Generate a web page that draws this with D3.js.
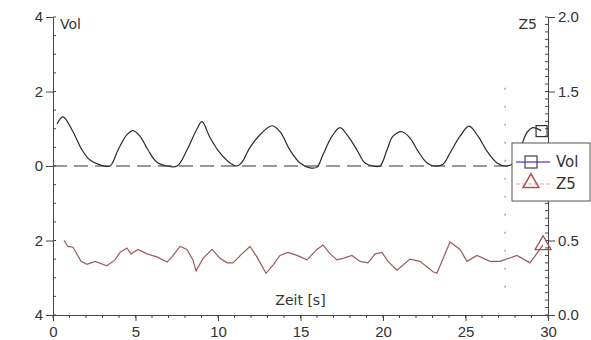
<!DOCTYPE html>
<html><head><meta charset="utf-8">
<script src="https://cdn.jsdelivr.net/npm/d3@7"></script>
<style>
html,body{margin:0;padding:0;background:#fff;}
svg{display:block;font-family:"DejaVu Sans",Verdana,sans-serif;}
</style></head>
<body>
<svg id="chart" width="591" height="340"></svg>
<script>
// ---- data ----
const volTime = [0.24,0.61,1.21,1.76,2.24,2.85,3.45,3.94,4.48,4.85,5.27,5.76,6.30,6.91,7.52,8.12,8.73,9.03,9.52,10.12,10.73,11.15,11.45,11.94,12.55,13.27,13.76,14.36,14.97,15.58,16.0,16.36,16.91,17.39,17.88,18.42,18.91,19.39,19.82,20.24,20.61,21.15,21.64,22.12,22.67,23.15,23.64,24.06,24.67,25.21,25.76,26.3,26.91,27.39,27.82,28.3,28.73,29.09,29.58];
const volValues = [1.13,1.32,0.92,0.43,0.16,0.03,0.0,0.43,0.84,0.95,0.80,0.43,0.10,0.0,0.0,0.43,1.0,1.19,0.76,0.35,0.08,0.0,0.1,0.5,0.84,1.08,0.92,0.43,0.08,-0.05,-0.03,0.3,0.8,1.03,0.8,0.43,0.08,0.0,0.0,0.43,0.8,0.92,0.75,0.4,0.08,0.0,0.05,0.35,0.8,1.07,0.8,0.4,0.08,0.0,0.05,0.45,0.9,1.03,0.95];
const z5Time = [0.67,0.91,1.21,1.70,2.06,2.55,3.27,3.76,4.06,4.48,4.73,5.15,5.70,6.30,6.91,7.21,7.70,8.12,8.48,8.67,9.09,9.64,10.12,10.55,10.91,11.45,11.94,12.36,12.91,13.33,13.76,14.24,14.79,15.39,16.0,16.36,16.79,17.21,17.58,18.12,18.61,19.09,19.52,19.94,20.3,20.85,21.64,22.24,23.03,23.27,24.06,24.67,25.09,25.7,26.48,27.09,28.12,28.91,29.7];
const z5Values = [0.50,0.46,0.455,0.36,0.34,0.36,0.33,0.37,0.42,0.45,0.41,0.44,0.41,0.39,0.355,0.39,0.46,0.44,0.37,0.295,0.38,0.44,0.38,0.35,0.35,0.41,0.46,0.39,0.28,0.335,0.40,0.42,0.40,0.37,0.44,0.47,0.41,0.37,0.38,0.40,0.36,0.35,0.41,0.42,0.36,0.30,0.375,0.36,0.29,0.28,0.49,0.44,0.36,0.40,0.36,0.36,0.40,0.35,0.47];
const xTicks = [0,5,10,15,20,25,30];
const leftTickValues = [4,2,0,-2,-4];
const leftTickLabels = ["4","2","0","2","4"];
const rightTickValues = [0,0.5,1.0,1.5,2.0];
const rightTickLabels = ["0.0","0.5","","1.5","2.0"]; // 1.0 label hidden behind legend in reference
const seriesNames = ["Vol","Z5"];
const xTitle = "Zeit [s]";
const cursorTime = [27.4];

// ---- layout ----
const svg = d3.select("#chart");
const L = 53, R = 548, T = 17, B = 315;
const x = d3.scaleLinear().domain([0,30]).range([L,R]);
const yL = d3.scaleLinear().domain([-4,4]).range([B,T]);
const yR = d3.scaleLinear().domain([0,2]).range([B,T]);
const axisCol = "#444";
const fontSize = 15;

// zero dashed baseline
svg.append("line").attr("x1",x(0)).attr("x2",x(30)).attr("y1",yL(0)).attr("y2",yL(0))
  .attr("stroke","#333").attr("stroke-width",1.2).attr("stroke-dasharray","14,7");

// cursor dotted line
cursorTime.forEach(t=>{
  svg.append("line").attr("x1",x(t)).attr("x2",x(t)).attr("y1",yL(2.1)).attr("y2",yL(-3.7))
    .attr("stroke","#777").attr("stroke-width",1).attr("stroke-dasharray","2,16");
});

// bottom axis
const xAxis = d3.axisBottom(x).tickValues(xTicks).tickFormat(d3.format("d")).tickSize(6).tickSizeOuter(0);
const gx = svg.append("g").attr("transform",`translate(0,${B})`).call(xAxis);
gx.selectAll("text").attr("font-size",fontSize).attr("fill","#333").attr("dy","0.85em");
gx.append("g").selectAll("line").data(d3.range(0,31)).enter().append("line")
  .attr("x1",d=>x(d)).attr("x2",d=>x(d)).attr("y1",0).attr("y2",3).attr("stroke",axisCol);

// left axis
const yAxisL = d3.axisLeft(yL).tickValues(leftTickValues)
  .tickFormat((d,i)=>leftTickLabels[i]).tickSize(7).tickSizeOuter(0);
const gl = svg.append("g").attr("transform",`translate(${L},0)`).call(yAxisL);
gl.selectAll("text").attr("font-size",fontSize).attr("fill","#333");
gl.append("g").selectAll("line").data(d3.range(-4,4.01,0.5)).enter().append("line")
  .attr("x1",0).attr("x2",3).attr("y1",d=>yL(d)).attr("y2",d=>yL(d)).attr("stroke",axisCol);

// right axis
const yAxisR = d3.axisRight(yR).tickValues(rightTickValues)
  .tickFormat((d,i)=>rightTickLabels[i]).tickSize(7).tickSizeOuter(0);
const gr = svg.append("g").attr("transform",`translate(${R},0)`).call(yAxisR);
gr.selectAll("text").attr("font-size",fontSize).attr("fill","#333");
gr.append("g").selectAll("line").data(d3.range(0,2.001,0.05)).enter().append("line")
  .attr("x1",0).attr("x2",-3).attr("y1",d=>yR(d)).attr("y2",d=>yR(d)).attr("stroke",axisCol);

[gx,gl,gr].forEach(g=>{g.select(".domain").attr("stroke",axisCol); g.selectAll(".tick line").attr("stroke",axisCol);});

// series
const volData = volTime.map((t,i)=>({t,v:volValues[i]}));
const z5Data = z5Time.map((t,i)=>({t,v:z5Values[i]}));

svg.append("path").datum(volData)
  .attr("d",d3.line().x(d=>x(d.t)).y(d=>yL(d.v)).curve(d3.curveCatmullRom.alpha(0.5)))
  .attr("fill","none").attr("stroke","#2a2a2a").attr("stroke-width",1.2);

svg.append("path").datum(z5Data)
  .attr("d",d3.line().x(d=>x(d.t)).y(d=>yR(d.v)))
  .attr("fill","none").attr("stroke","#9a5a5e").attr("stroke-width",1.2);

// end markers
const lastVol = volData[volData.length-1];
svg.append("rect").attr("x",x(lastVol.t)-5).attr("y",yL(lastVol.v)-5).attr("width",11).attr("height",11)
  .attr("fill","none").attr("stroke","#333").attr("stroke-width",1.2);
const lastZ = z5Data[z5Data.length-1];
const tri = d3.symbol().type(d3.symbolTriangle).size(110);
svg.append("path").attr("d",tri()).attr("transform",`translate(${x(lastZ.t)},${yR(lastZ.v)})`)
  .attr("fill","none").attr("stroke","#a05050").attr("stroke-width",1.3);

// axis titles
svg.append("text").attr("x",L+7).attr("y",T+12).attr("font-size",14).attr("fill","#333").text(seriesNames[0]);
svg.append("text").attr("x",R-11).attr("y",T+12).attr("font-size",14).attr("fill","#333").attr("text-anchor","end").text(seriesNames[1]);
svg.append("text").attr("x",x(15)).attr("y",B-10).attr("font-size",14).attr("fill","#333").attr("text-anchor","middle").text(xTitle);

// legend
const lg = svg.append("g");
lg.append("rect").attr("x",512).attr("y",143).attr("width",78).attr("height",58)
  .attr("fill","#fff").attr("stroke","#555").attr("stroke-width",1);
// Vol entry
lg.append("line").attr("x1",516).attr("x2",550).attr("y1",162).attr("y2",162).attr("stroke","#7b52d8").attr("stroke-width",1.5);
lg.append("rect").attr("x",525).attr("y",156).attr("width",12).attr("height",12).attr("fill","none").attr("stroke","#444").attr("stroke-width",1.2);
lg.append("text").attr("x",556).attr("y",167).attr("font-size",15).attr("fill","#333").text(seriesNames[0]);
// Z5 entry
lg.append("line").attr("x1",516).attr("x2",550).attr("y1",184).attr("y2",184).attr("stroke","#e0a0b0").attr("stroke-width",1.2).attr("stroke-dasharray","4,2");
lg.append("path").attr("d",tri()).attr("transform","translate(531,183)").attr("fill","none").attr("stroke","#b05050").attr("stroke-width",1.5);
lg.append("text").attr("x",556).attr("y",189).attr("font-size",15).attr("fill","#333").text(seriesNames[1]);
</script>
</body></html>
